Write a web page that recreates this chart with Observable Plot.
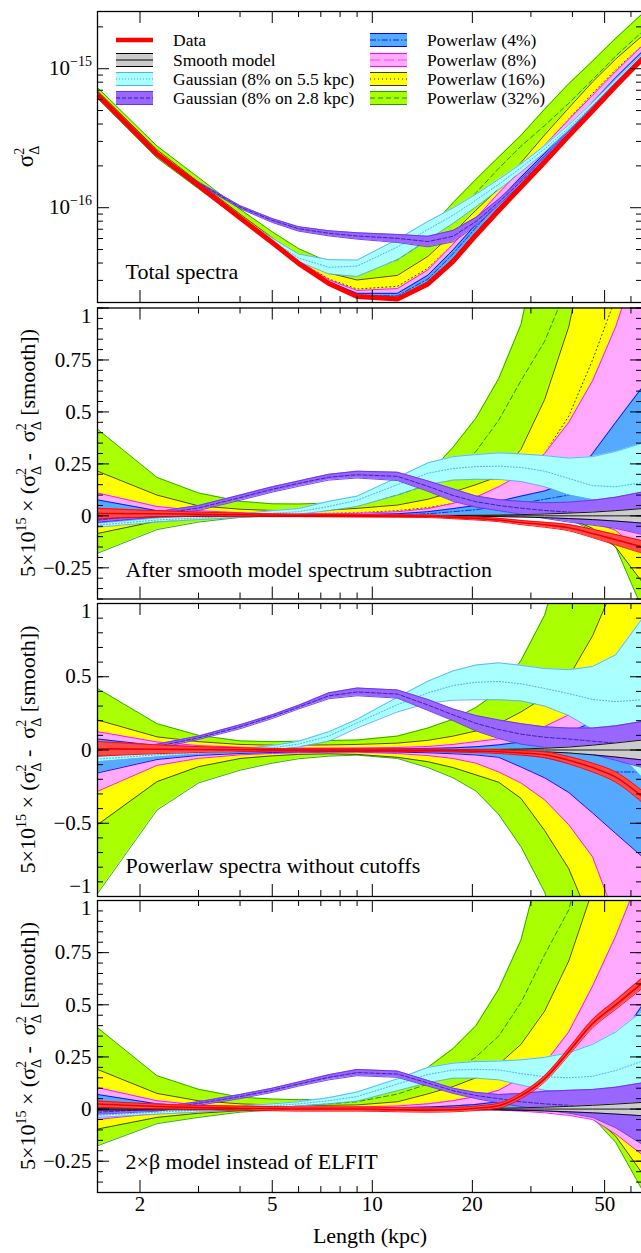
<!DOCTYPE html>
<html><head><meta charset="utf-8">
<script src="https://cdn.jsdelivr.net/npm/d3@7"></script>
<script src="https://cdn.jsdelivr.net/npm/@observablehq/plot@0.6"></script>
<style>
html,body{margin:0;padding:0;background:#fff;overflow:hidden}
#chart{position:relative;width:641px;height:1253px;overflow:hidden;background:#fff}
#chart svg{position:absolute;left:0;top:0}
</style></head><body><div id="chart"></div>
<script>
// ---------------- DATA ----------------
const lengthKpc = [1.49, 2.25, 3, 4, 5, 6, 7.4, 9, 11.9, 14.7, 17.5, 20.5, 24, 28, 33, 39, 46, 54, 65];
// total smooth-model spectrum sigma^2_Delta (panel 1)
const smoothTotal = [6.48e-16, 2.41e-16, 1.43e-16, 8.35e-17, 5.55e-17, 3.94e-17, 2.83e-17, 2.3e-17, 2.22e-17, 2.87e-17, 4.27e-17, 6.6e-17, 9.95e-17, 1.47e-16, 2.22e-16, 3.4e-16, 5.15e-16, 7.74e-16, 1.21e-15];
const residualScale = 5e15;

// Panel 2: after smooth model subtraction (units of 5e15 x difference)
const p2GreenHi  = [0.417, 0.185, 0.11, 0.07, 0.058, 0.057, 0.062, 0.078, 0.125, 0.2, 0.33, 0.47, 0.66, 0.92, 1.45, 2.2, 3.1, 4.4, 6.4];
const p2GreenMid = [0.12, 0.06, 0.035, 0.022, 0.02, 0.025, 0.04, 0.06, 0.1, 0.15, 0.22, 0.31, 0.46, 0.65, 0.84, 1.12, 1.6, 2.3, 3.2];
const p2GreenLo  = [-0.18, -0.066, -0.03, -0.007, 0, 0.002, 0.003, 0.004, 0.005, 0.005, 0.005, 0.004, 0.003, 0, -0.005, -0.015, -0.07, -0.15, -0.45];
const p2YellowHi  = [0.215, 0.1, 0.048, 0.032, 0.026, 0.025, 0.028, 0.036, 0.052, 0.08, 0.115, 0.15, 0.19, 0.32, 0.56, 0.91, 1.45, 2.0, 2.6];
const p2YellowMid = [0.06, 0.035, 0.02, 0.012, 0.01, 0.01, 0.012, 0.015, 0.025, 0.04, 0.06, 0.08, 0.11, 0.18, 0.3, 0.48, 0.75, 1.05, 1.35];
const p2YellowLo  = [-0.085, -0.025, -0.01, -0.004, -0.002, -0.001, 0, 0, 0, 0, 0, 0, 0, -0.002, -0.004, -0.01, -0.06, -0.15, -0.32];
const p2PinkHi  = [0.11, 0.045, 0.025, 0.015, 0.011, 0.01, 0.01, 0.012, 0.02, 0.035, 0.06, 0.09, 0.14, 0.2, 0.3, 0.45, 0.65, 0.91, 1.3];
const p2PinkMid = [0.03, 0.015, 0.008, 0.005, 0.004, 0.004, 0.004, 0.005, 0.008, 0.014, 0.024, 0.036, 0.05, 0.08, 0.12, 0.18, 0.27, 0.4, 0.6];
const p2PinkLo  = [-0.05, -0.015, -0.006, -0.002, -0.001, 0, 0, 0, 0, 0, 0, 0, 0, -0.002, -0.005, -0.012, -0.03, -0.07, -0.18];
const p2BlueHi  = [0.077, 0.025, 0.012, 0.007, 0.005, 0.005, 0.005, 0.006, 0.01, 0.02, 0.035, 0.05, 0.07, 0.095, 0.12, 0.16, 0.3, 0.45, 0.62];
const p2BlueMid = [0.02, 0.006, 0.003, 0.002, 0.001, 0.001, 0.001, 0.002, 0.005, 0.01, 0.02, 0.03, 0.045, 0.06, 0.08, 0.1, 0.13, 0.18, 0.26];
const p2BlueLo  = [-0.03, -0.008, -0.004, -0.002, -0.001, 0, 0, 0, 0, 0, 0, 0, 0, 0, -0.002, -0.006, -0.015, -0.035, -0.08];
const p2CyanHi  = [-0.035, -0.01, 0, 0.01, 0.025, 0.035, 0.07, 0.095, 0.185, 0.255, 0.285, 0.295, 0.303, 0.298, 0.29, 0.278, 0.285, 0.31, 0.35];
const p2CyanMid = [-0.045, -0.02, -0.01, 0, 0.012, 0.02, 0.045, 0.075, 0.15, 0.205, 0.228, 0.237, 0.239, 0.233, 0.215, 0.18, 0.145, 0.14, 0.16];
const p2CyanLo  = [-0.055, -0.03, -0.018, -0.008, 0, 0.008, 0.025, 0.045, 0.1, 0.15, 0.172, 0.176, 0.175, 0.165, 0.14, 0.1, 0.078, 0.075, 0.1];
const p2PurpleHi  = [-0.008, 0.02, 0.05, 0.1, 0.14, 0.168, 0.2, 0.215, 0.21, 0.168, 0.13, 0.096, 0.078, 0.07, 0.063, 0.066, 0.075, 0.09, 0.115];
const p2PurpleMid = [-0.02, 0.008, 0.038, 0.088, 0.128, 0.156, 0.186, 0.198, 0.19, 0.142, 0.098, 0.068, 0.05, 0.037, 0.026, 0.018, 0.013, 0.01, 0.008];
const p2PurpleLo  = [-0.032, -0.005, 0.026, 0.075, 0.114, 0.142, 0.172, 0.182, 0.17, 0.118, 0.07, 0.042, 0.025, 0.008, -0.012, -0.03, -0.045, -0.06, -0.09];
const p2SmoothErr = [0.006, 0.004, 0.003, 0.002, 0.002, 0.002, 0.002, 0.002, 0.002, 0.002, 0.002, 0.003, 0.004, 0.006, 0.009, 0.013, 0.018, 0.025, 0.035];
const p2DataMid = [0.011, 0.01, 0.008, 0.005, 0.003, 0.002, 0.001, 0, -0.001, -0.002, -0.008, -0.013, -0.02, -0.032, -0.043, -0.057, -0.085, -0.115, -0.15];
const p2DataErr = [0.025, 0.015, 0.01, 0.008, 0.007, 0.006, 0.006, 0.006, 0.006, 0.006, 0.006, 0.007, 0.008, 0.01, 0.012, 0.015, 0.02, 0.025, 0.03];

// Panel 3: powerlaw spectra without cutoffs
const p3GreenHi  = [0.42, 0.18, 0.1, 0.062, 0.057, 0.06, 0.065, 0.068, 0.095, 0.15, 0.21, 0.29, 0.4, 0.61, 0.92, 1.5, 2.3, 3.3, 4.8];
const p3GreenMid = [-0.28, -0.11, -0.06, -0.035, -0.015, 0, 0.01, 0.015, 0.02, 0.015, 0.01, 0.005, -0.01, -0.02, -0.03, 0, 0.05, 0.15, 0.15];
const p3GreenLo  = [-0.98, -0.41, -0.225, -0.138, -0.09, -0.06, -0.042, -0.035, -0.058, -0.12, -0.19, -0.28, -0.44, -0.66, -0.97, -1.5, -2.2, -3.0, -4.5];
const p3YellowHi  = [0.205, 0.09, 0.057, 0.038, 0.033, 0.033, 0.035, 0.038, 0.047, 0.066, 0.095, 0.13, 0.18, 0.26, 0.36, 0.5, 0.78, 1.15, 1.8];
const p3YellowMid = [-0.15, -0.06, -0.03, -0.01, 0, 0, 0.005, 0.005, 0, -0.005, -0.01, -0.02, -0.02, -0.03, -0.09, -0.15, -0.2, -0.22, -0.2];
const p3YellowLo  = [-0.51, -0.216, -0.114, -0.058, -0.04, -0.03, -0.026, -0.03, -0.05, -0.08, -0.12, -0.17, -0.22, -0.33, -0.55, -0.81, -1.2, -1.6, -2.2];
const p3PinkHi  = [0.125, 0.055, 0.03, 0.019, 0.015, 0.013, 0.013, 0.014, 0.017, 0.024, 0.038, 0.057, 0.076, 0.11, 0.16, 0.24, 0.35, 0.52, 0.8];
const p3PinkMid = [-0.08, -0.025, -0.013, -0.007, -0.005, -0.003, -0.002, -0.001, -0.004, -0.007, -0.01, -0.016, -0.037, -0.06, -0.09, -0.13, -0.19, -0.29, -0.35];
const p3PinkLo  = [-0.282, -0.105, -0.057, -0.033, -0.024, -0.019, -0.016, -0.015, -0.024, -0.038, -0.058, -0.09, -0.15, -0.225, -0.34, -0.51, -0.73, -1.15, -1.5];
const p3BlueHi  = [0.075, 0.03, 0.017, 0.011, 0.009, 0.008, 0.008, 0.008, 0.009, 0.011, 0.015, 0.022, 0.035, 0.055, 0.085, 0.12, 0.19, 0.28, 0.42];
const p3BlueMid = [-0.04, -0.017, -0.01, -0.006, -0.004, -0.003, -0.002, -0.002, -0.003, -0.004, -0.006, -0.006, -0.008, -0.03, -0.05, -0.09, -0.12, -0.15, -0.15];
const p3BlueLo  = [-0.157, -0.065, -0.037, -0.024, -0.017, -0.013, -0.011, -0.011, -0.014, -0.019, -0.026, -0.034, -0.05, -0.116, -0.19, -0.29, -0.43, -0.57, -0.73];
const p3CyanHi  = [-0.042, -0.018, -0.005, 0.01, 0.03, 0.06, 0.125, 0.21, 0.36, 0.47, 0.54, 0.58, 0.595, 0.578, 0.556, 0.548, 0.57, 0.65, 0.9];
const p3CyanMid = [-0.062, -0.033, -0.017, -0.003, 0.014, 0.04, 0.095, 0.185, 0.31, 0.39, 0.44, 0.462, 0.468, 0.452, 0.42, 0.385, 0.345, 0.33, 0.343];
const p3CyanLo  = [-0.08, -0.047, -0.028, -0.014, 0, 0.02, 0.06, 0.15, 0.26, 0.32, 0.34, 0.343, 0.343, 0.335, 0.3, 0.235, 0.14, 0, -0.19];
const p3PurpleHi  = [-0.01, 0.04, 0.095, 0.172, 0.24, 0.305, 0.39, 0.423, 0.41, 0.345, 0.28, 0.235, 0.205, 0.18, 0.158, 0.15, 0.15, 0.165, 0.195];
const p3PurpleMid = [-0.025, 0.025, 0.083, 0.158, 0.228, 0.292, 0.37, 0.396, 0.382, 0.307, 0.24, 0.182, 0.14, 0.108, 0.087, 0.075, 0.06, 0.047, 0.035];
const p3PurpleLo  = [-0.04, 0.01, 0.072, 0.145, 0.215, 0.28, 0.35, 0.37, 0.354, 0.27, 0.2, 0.13, 0.078, 0.04, 0.018, 0, -0.03, -0.07, -0.12];
const p3SmoothErr = [0.008, 0.005, 0.004, 0.003, 0.003, 0.003, 0.003, 0.003, 0.003, 0.003, 0.003, 0.004, 0.005, 0.007, 0.012, 0.02, 0.033, 0.048, 0.068];
const p3DataMid = [0.008, 0.005, 0.003, 0.002, 0.001, 0, 0, 0, -0.002, -0.003, -0.005, -0.008, -0.012, -0.02, -0.033, -0.07, -0.12, -0.185, -0.32];
const p3DataErr = [0.05, 0.03, 0.02, 0.013, 0.01, 0.008, 0.008, 0.008, 0.008, 0.008, 0.009, 0.01, 0.012, 0.015, 0.02, 0.025, 0.03, 0.035, 0.04];

// Panel 4: 2xbeta model instead of ELFIT
const p4GreenHi  = [0.39, 0.16, 0.095, 0.057, 0.048, 0.045, 0.047, 0.058, 0.105, 0.2, 0.29, 0.4, 0.575, 0.81, 1.25, 2.0, 3.0, 4.3, 6.0];
const p4GreenMid = [0.1, 0.045, 0.025, 0.02, 0.02, 0.02, 0.025, 0.035, 0.072, 0.12, 0.18, 0.25, 0.35, 0.51, 0.74, 0.955, 1.4, 2.0, 2.8];
const p4GreenLo  = [-0.176, -0.07, -0.04, -0.015, -0.005, 0, 0, 0, 0, 0, 0, 0, 0, 0, 0, -0.005, -0.04, -0.16, -0.39];
const p4YellowHi  = [0.19, 0.075, 0.04, 0.025, 0.02, 0.018, 0.018, 0.02, 0.035, 0.073, 0.108, 0.15, 0.215, 0.31, 0.47, 0.71, 1.05, 1.5, 2.2];
const p4YellowMid = [0.05, 0.02, 0.01, 0.008, 0.007, 0.006, 0.006, 0.007, 0.012, 0.025, 0.04, 0.06, 0.09, 0.13, 0.2, 0.3, 0.45, 0.65, 0.9];
const p4YellowLo  = [-0.096, -0.04, -0.02, -0.008, -0.003, -0.002, -0.002, -0.002, -0.002, -0.002, -0.002, -0.002, -0.002, -0.002, -0.003, -0.005, -0.03, -0.13, -0.31];
const p4PinkHi  = [0.103, 0.04, 0.02, 0.012, 0.01, 0.009, 0.009, 0.01, 0.015, 0.025, 0.04, 0.06, 0.09, 0.15, 0.22, 0.37, 0.59, 0.83, 1.15];
const p4PinkMid = [0.03, 0.012, 0.006, 0.004, 0.003, 0.003, 0.003, 0.004, 0.006, 0.01, 0.016, 0.025, 0.035, 0.05, 0.08, 0.13, 0.2, 0.3, 0.42];
const p4PinkLo  = [-0.05, -0.02, -0.01, -0.003, -0.002, -0.001, -0.001, -0.001, -0.001, -0.001, -0.002, -0.003, -0.005, -0.01, -0.018, -0.03, -0.05, -0.12, -0.22];
const p4BlueHi  = [0.07, 0.025, 0.012, 0.007, 0.005, 0.005, 0.005, 0.005, 0.007, 0.01, 0.015, 0.022, 0.035, 0.055, 0.085, 0.13, 0.2, 0.31, 0.5];
const p4BlueMid = [0.02, 0.007, 0.003, 0.002, 0.001, 0.001, 0.001, 0.001, 0.002, 0.004, 0.007, 0.012, 0.02, 0.03, 0.045, 0.07, 0.1, 0.15, 0.22];
const p4BlueLo  = [-0.03, -0.01, -0.005, -0.002, -0.001, 0, 0, 0, 0, 0, 0, 0, -0.002, -0.005, -0.008, -0.012, -0.02, -0.035, -0.06];
const p4CyanHi  = [-0.02, -0.005, 0.005, 0.015, 0.025, 0.035, 0.055, 0.082, 0.145, 0.2, 0.22, 0.228, 0.23, 0.236, 0.248, 0.27, 0.31, 0.37, 0.47];
const p4CyanMid = [-0.03, -0.015, -0.005, 0.005, 0.015, 0.025, 0.04, 0.06, 0.12, 0.166, 0.187, 0.19, 0.188, 0.17, 0.155, 0.15, 0.157, 0.185, 0.23];
const p4CyanLo  = [-0.04, -0.025, -0.015, -0.005, 0.005, 0.015, 0.025, 0.038, 0.088, 0.126, 0.148, 0.148, 0.14, 0.115, 0.09, 0.08, 0.075, 0.075, 0.08];
const p4PurpleHi  = [-0.005, 0.01, 0.035, 0.07, 0.1, 0.13, 0.165, 0.19, 0.182, 0.137, 0.1, 0.08, 0.07, 0.075, 0.085, 0.09, 0.094, 0.105, 0.126];
const p4PurpleMid = [-0.015, 0, 0.027, 0.06, 0.09, 0.12, 0.152, 0.175, 0.168, 0.125, 0.088, 0.065, 0.05, 0.035, 0.025, 0.018, 0.012, 0, -0.02];
const p4PurpleLo  = [-0.025, -0.01, 0.018, 0.05, 0.08, 0.11, 0.14, 0.16, 0.152, 0.11, 0.075, 0.05, 0.03, 0.012, -0.005, -0.02, -0.04, -0.09, -0.17];
const p4SmoothErr = [0.005, 0.004, 0.003, 0.002, 0.002, 0.002, 0.002, 0.002, 0.002, 0.002, 0.002, 0.003, 0.004, 0.006, 0.009, 0.013, 0.018, 0.024, 0.032];
const p4DataMid = [0.024, 0.012, 0.007, 0.004, 0.002, 0, 0, 0, -0.003, -0.005, -0.003, 0.004, 0.016, 0.063, 0.145, 0.275, 0.41, 0.5, 0.605];
const p4DataErr = [0.015, 0.012, 0.01, 0.01, 0.01, 0.01, 0.01, 0.01, 0.01, 0.01, 0.01, 0.011, 0.012, 0.013, 0.015, 0.017, 0.02, 0.022, 0.025];

// ticks and labels
const xTickMajor = [2, 5, 10, 20, 50];
const xTickMinor = [3, 4, 6, 7, 8, 9, 30, 40, 60];
const p1TickMajor = [1e-16, 1e-15];
const p1TickMinor = [3e-17, 4e-17, 5e-17, 6e-17, 7e-17, 8e-17, 9e-17, 2e-16, 3e-16, 4e-16, 5e-16, 6e-16, 7e-16, 8e-16, 9e-16, 2e-15];
const p1TickLabels = [[1e-15, "\u221215"], [1e-16, "\u221216"]];
const resTickLabels = [1, 0.75, 0.5, 0.25, 0, -0.25];
const p3TickLabels = [1, 0.5, 0, -0.5, -1];
const panelTitles = ["Total spectra", "After smooth model spectrum subtraction", "Powerlaw spectra without cutoffs", "2\u00d7\u03b2 model instead of ELFIT"];
const legendLeft = [["Data", "data"], ["Smooth model", "smooth"], ["Gaussian (8% on 5.5 kpc)", "cyan"], ["Gaussian (8% on 2.8 kpc)", "purple"]];
const legendRight = [["Powerlaw (4%)", "blue"], ["Powerlaw (8%)", "pink"], ["Powerlaw (16%)", "yellow"], ["Powerlaw (32%)", "green"]];

// ---------------- STYLE ----------------
const FONT = "'Liberation Serif', 'Times New Roman', serif";
const ST = {
  green:  {fill: "#aaff00", edge: "#22a000", mid: "#0e8a00", dash: "5,3"},
  yellow: {fill: "#ffff00", edge: "#3a3a00", mid: "#222200", dash: "1,3"},
  pink:   {fill: "#ffaaff", edge: "#ff00ff", mid: "#ff44ff", dash: "10,4"},
  blue:   {fill: "#55aaff", edge: "#0000ff", mid: "#0022ee", dash: "6,2,1.5,2"},
  cyan:   {fill: "#aaffff", edge: "#55aaff", mid: "#449fff", dash: "1,2"},
  purple: {fill: "#9966ff", edge: "#6633ee", mid: "#3a1aa0", dash: "4,2"},
  smooth: {fill: "#cccccc", edge: "#000000", mid: "#000000", dash: null},
  data:   {fill: "#ff4a4a", edge: "#ff0000", mid: "#ee0000", dash: null}
};
const W = 643, H = 1253, ML = 97, MR = 1, PW = W - ML - MR;
const xDomain = [1.49, 65];

function band(rows, st, midWidth = 0.9, curve = "linear") {
  const m = [
    Plot.areaY(rows, {x: "x", y1: "lo", y2: "hi", fill: st.fill, curve, clip: true}),
    Plot.lineY(rows, {x: "x", y: "lo", stroke: st.edge, strokeWidth: 0.9, curve, clip: true}),
    Plot.lineY(rows, {x: "x", y: "hi", stroke: st.edge, strokeWidth: 0.9, curve, clip: true})
  ];
  const o = {x: "x", y: "mid", stroke: st.mid, strokeWidth: midWidth, curve, clip: true};
  if (st.dash) o.strokeDasharray = st.dash;
  m.push(Plot.lineY(rows, o));
  return m;
}
const mk = (lo, mid, hi, f = v => v) => lengthKpc.map((x, i) => ({x, lo: f(lo[i], i), mid: f(mid[i], i), hi: f(hi[i], i)}));

function seriesFor(a, f) {
  const zeros = lengthKpc.map(() => 0);
  const neg = a.smoothErr.map(v => -v);
  const dLo = a.dataMid.map((v, i) => v - a.dataErr[i]);
  const dHi = a.dataMid.map((v, i) => v + a.dataErr[i]);
  return {
    green: mk(a.greenLo, a.greenMid, a.greenHi, f),
    yellow: mk(a.yellowLo, a.yellowMid, a.yellowHi, f),
    pink: mk(a.pinkLo, a.pinkMid, a.pinkHi, f),
    blue: mk(a.blueLo, a.blueMid, a.blueHi, f),
    cyan: mk(a.cyanLo, a.cyanMid, a.cyanHi, f),
    purple: mk(a.purpleLo, a.purpleMid, a.purpleHi, f),
    smooth: mk(neg, zeros, a.smoothErr, f),
    data: mk(dLo, a.dataMid, dHi, f)
  };
}
const P2 = {greenLo: p2GreenLo, greenMid: p2GreenMid, greenHi: p2GreenHi, yellowLo: p2YellowLo, yellowMid: p2YellowMid, yellowHi: p2YellowHi, pinkLo: p2PinkLo, pinkMid: p2PinkMid, pinkHi: p2PinkHi, blueLo: p2BlueLo, blueMid: p2BlueMid, blueHi: p2BlueHi, cyanLo: p2CyanLo, cyanMid: p2CyanMid, cyanHi: p2CyanHi, purpleLo: p2PurpleLo, purpleMid: p2PurpleMid, purpleHi: p2PurpleHi, smoothErr: p2SmoothErr, dataMid: p2DataMid, dataErr: p2DataErr};
const P3 = {greenLo: p3GreenLo, greenMid: p3GreenMid, greenHi: p3GreenHi, yellowLo: p3YellowLo, yellowMid: p3YellowMid, yellowHi: p3YellowHi, pinkLo: p3PinkLo, pinkMid: p3PinkMid, pinkHi: p3PinkHi, blueLo: p3BlueLo, blueMid: p3BlueMid, blueHi: p3BlueHi, cyanLo: p3CyanLo, cyanMid: p3CyanMid, cyanHi: p3CyanHi, purpleLo: p3PurpleLo, purpleMid: p3PurpleMid, purpleHi: p3PurpleHi, smoothErr: p3SmoothErr, dataMid: p3DataMid, dataErr: p3DataErr};
const P4 = {greenLo: p4GreenLo, greenMid: p4GreenMid, greenHi: p4GreenHi, yellowLo: p4YellowLo, yellowMid: p4YellowMid, yellowHi: p4YellowHi, pinkLo: p4PinkLo, pinkMid: p4PinkMid, pinkHi: p4PinkHi, blueLo: p4BlueLo, blueMid: p4BlueMid, blueHi: p4BlueHi, cyanLo: p4CyanLo, cyanMid: p4CyanMid, cyanHi: p4CyanHi, purpleLo: p4PurpleLo, purpleMid: p4PurpleMid, purpleHi: p4PurpleHi, smoothErr: p4SmoothErr, dataMid: p4DataMid, dataErr: p4DataErr};

function tickMarks(plotH, yMajor, yMinor) {
  const s = {stroke: "black", strokeWidth: 1};
  return [
    Plot.tickX(xTickMajor, {x: d => d, insetBottom: plotH - 12, ...s}),
    Plot.tickX(xTickMajor, {x: d => d, insetTop: plotH - 12, ...s}),
    Plot.tickX(xTickMinor, {x: d => d, insetBottom: plotH - 6, ...s}),
    Plot.tickX(xTickMinor, {x: d => d, insetTop: plotH - 6, ...s}),
    Plot.tickY(yMajor, {y: d => d, insetRight: PW - 12, ...s}),
    Plot.tickY(yMajor, {y: d => d, insetLeft: PW - 12, ...s}),
    Plot.tickY(yMinor, {y: d => d, insetRight: PW - 6, ...s}),
    Plot.tickY(yMinor, {y: d => d, insetLeft: PW - 6, ...s})
  ];
}
function yLabelMarks(labels, topVal, botVal) {
  const fmt = d => (d < 0 ? "\u2212" + (-d) : String(d));
  const c = {y: d => d, text: fmt, frameAnchor: "left", textAnchor: "end", dx: -6, fontSize: 21, fontFamily: FONT, fill: "black"};
  return [
    Plot.text(labels.filter(d => d !== topVal && d !== botVal), c),
    Plot.text(labels.filter(d => d === topVal), {...c, dy: 8}),
    Plot.text(labels.filter(d => d === botVal), {...c, dy: -10})
  ];
}
function titleMark(t, dy) {
  return Plot.text([t], {text: d => d, frameAnchor: "bottom-left", textAnchor: "start", dx: 28, dy, fontSize: 22, fontFamily: FONT, fill: "black"});
}
function seriesMarks(S, dataAsLine) {
  const m = [];
  for (const k of ["green", "yellow", "pink", "blue", "cyan", "purple", "smooth"]) m.push(...band(S[k], ST[k]));
  if (dataAsLine) m.push(Plot.lineY(S.data, {x: "x", y: "mid", stroke: "#ff0000", strokeWidth: 5, clip: true}));
  else m.push(...band(S.data, ST.data, 1.6, "monotone-x"));
  return m;
}
function makePlot(top, bottom, y, marks) {
  return Plot.plot({
    width: W, height: H, marginLeft: ML, marginRight: MR, marginTop: top, marginBottom: H - bottom,
    x: {type: "log", domain: xDomain, axis: null},
    y: {...y, axis: null},
    style: {background: "transparent", maxWidth: "none", overflow: "visible", fontFamily: FONT},
    marks
  });
}

const chart = document.getElementById("chart");

// ---- Panel 1
{
  const top = 11, bottom = 302;
  const S = seriesFor(P2, (v, i) => smoothTotal[i] + v / residualScale);
  const svg = makePlot(top, bottom, {type: "log", domain: [2.08e-17, 2.58e-15]}, [
    ...seriesMarks(S, true),
    Plot.frame({stroke: "black", strokeWidth: 1.3}),
    ...tickMarks(bottom - top, p1TickMajor, p1TickMinor),
    titleMark(panelTitles[0], -24)
  ]);
  chart.appendChild(svg);
  const sel = d3.select(svg);
  const ys = svg.scale("y");
  for (const [v, e] of p1TickLabels) {
    const t = sel.append("text").attr("x", 92).attr("y", ys.apply(v) + 7).attr("text-anchor", "end")
      .attr("font-family", FONT).attr("font-size", 21);
    t.append("tspan").text("10");
    t.append("tspan").attr("font-size", 14).attr("dy", -9).text(e);
  }
  const yl = sel.append("text").attr("transform", `translate(33,${(top + bottom) / 2}) rotate(-90)`)
    .attr("text-anchor", "middle").attr("font-family", FONT).attr("font-size", 23);
  yl.append("tspan").text("\u03c3");
  yl.append("tspan").attr("font-size", 14).attr("dy", -9).text("2");
  yl.append("tspan").attr("font-size", 14).attr("dx", -7).attr("dy", 15).text("\u0394");
  // legend
  const rowsY = [40, 60, 79, 98];
  const drawSw = (x, yc, key) => {
    if (key === "data") {
      sel.append("line").attr("x1", x).attr("x2", x + 37).attr("y1", yc).attr("y2", yc).attr("stroke", "#ff0000").attr("stroke-width", 4.5);
      return;
    }
    const st = ST[key];
    sel.append("rect").attr("x", x).attr("y", yc - 6.5).attr("width", 37).attr("height", 13).attr("fill", st.fill);
    for (const d of [-6.5, 6.5]) sel.append("line").attr("x1", x).attr("x2", x + 37).attr("y1", yc + d).attr("y2", yc + d).attr("stroke", st.edge).attr("stroke-width", 1.2);
    const ml = sel.append("line").attr("x1", x).attr("x2", x + 37).attr("y1", yc).attr("y2", yc).attr("stroke", st.mid).attr("stroke-width", 1);
    if (st.dash) ml.attr("stroke-dasharray", st.dash);
  };
  const legText = (x, y, lab) => sel.append("text").attr("x", x).attr("y", y).attr("text-anchor", "start")
    .attr("font-family", FONT).attr("font-size", 17.5).attr("fill", "black").text(lab);
  legendLeft.forEach(([lab, key], i) => { drawSw(116, rowsY[i], key); legText(173, rowsY[i] + 6, lab); });
  legendRight.forEach(([lab, key], i) => { drawSw(370, rowsY[i], key); legText(427, rowsY[i] + 6, lab); });
}

function residualLabel(svg, cy) {
  const t = d3.select(svg).append("text").attr("transform", `translate(35,${cy}) rotate(-90)`)
    .attr("text-anchor", "middle").attr("font-family", FONT).attr("font-size", 22).style("white-space", "pre");
  t.append("tspan").text("5\u00d710");
  t.append("tspan").attr("font-size", 14).attr("dy", -9).text("15");
  t.append("tspan").attr("dy", 9).text(" \u00d7 (\u03c3");
  t.append("tspan").attr("font-size", 14).attr("dy", -9).text("2");
  t.append("tspan").attr("font-size", 14).attr("dx", -7).attr("dy", 15).text("\u0394");
  t.append("tspan").attr("dy", -6).text(" -  \u03c3");
  t.append("tspan").attr("font-size", 14).attr("dy", -9).text("2");
  t.append("tspan").attr("font-size", 14).attr("dx", -7).attr("dy", 15).text("\u0394");
  t.append("tspan").attr("dy", -6).text(" [smooth])");
}

// ---- Panels 2-4
const resPanels = [
  {A: P2, top: 307.5, bottom: 598.5, dom: [-0.4, 1], major: [-0.25, 0, 0.25, 0.5, 0.75, 1], minorStep: 0.05, labels: resTickLabels, topVal: 1, botVal: null, title: panelTitles[1], tdy: -22},
  {A: P3, top: 603, bottom: 896, dom: [-1, 1], major: [-1, -0.5, 0, 0.5, 1], minorStep: 0.1, labels: p3TickLabels, topVal: 1, botVal: -1, title: panelTitles[2], tdy: -24},
  {A: P4, top: 900, bottom: 1192, dom: [-0.4, 1], major: [-0.25, 0, 0.25, 0.5, 0.75, 1], minorStep: 0.05, labels: resTickLabels, topVal: 1, botVal: null, title: panelTitles[3], tdy: -24, bottomAxis: true}
];
for (const p of resPanels) {
  const minor = d3.range(Math.round(p.dom[0] / p.minorStep), Math.round(p.dom[1] / p.minorStep) + 1).map(k => +(k * p.minorStep).toFixed(3));
  const marks = [
    ...seriesMarks(seriesFor(p.A), false),
    Plot.frame({stroke: "black", strokeWidth: 1.3}),
    ...tickMarks(p.bottom - p.top, p.major, minor),
    ...yLabelMarks(p.labels, p.topVal, p.botVal),
    titleMark(p.title, p.tdy)
  ];
  if (p.bottomAxis) {
    marks.push(Plot.text(xTickMajor, {x: d => d, text: d => String(d), frameAnchor: "bottom", dy: 18, fontSize: 21, fontFamily: FONT, fill: "black"}));
    marks.push(Plot.text(["Length (kpc)"], {text: d => d, frameAnchor: "bottom", dy: 50, fontSize: 22, fontFamily: FONT, fill: "black"}));
  }
  const svg = makePlot(p.top, p.bottom, {domain: p.dom}, marks);
  chart.appendChild(svg);
  residualLabel(svg, (p.top + p.bottom) / 2);
}
</script></body></html>
